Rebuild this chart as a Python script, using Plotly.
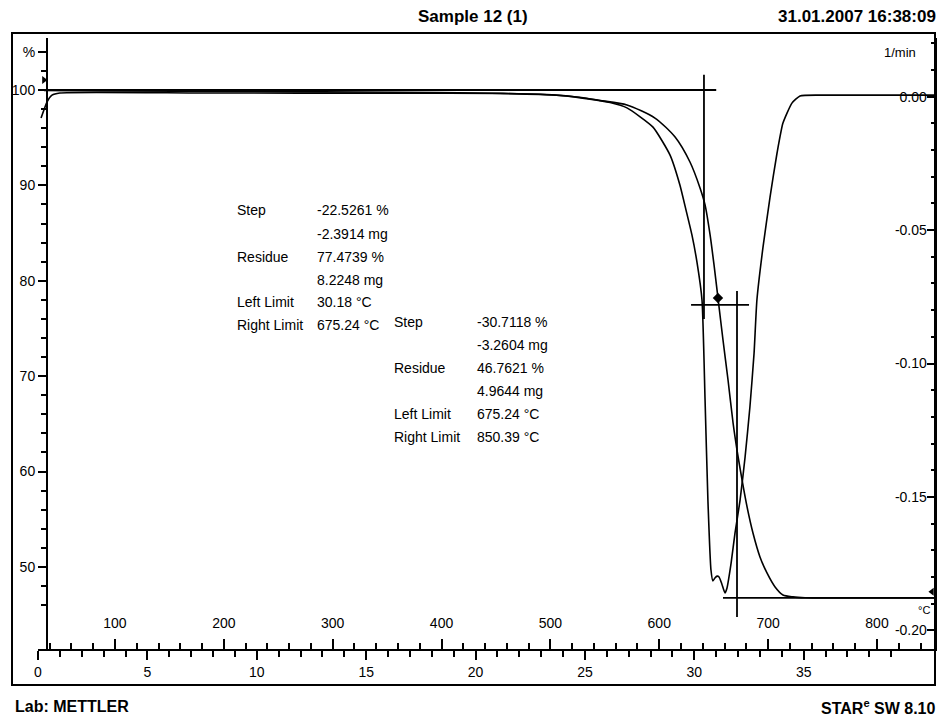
import plotly.graph_objects as go

# ---- measured curves -------------------------------------------------------
# weight curve: time (min) vs. sample weight (%)
tga_time = [0.27, 2.83, 9.69, 16.55, 20.20, 22.49, 23.86, 25.00, 25.69, 26.92,
            28.20, 29.12, 29.80, 30.26, 30.49, 30.72, 30.90, 31.08, 31.31, 31.54,
            31.77, 31.95, 32.18, 32.41, 32.68, 33.00, 33.32, 33.69, 34.05, 34.51,
            35.06, 41.0]
tga_pct = [99.95, 99.90, 99.84, 99.76, 99.69, 99.58, 99.42, 99.16, 98.90, 98.43,
           97.06, 95.07, 92.45, 89.73, 87.95, 84.80, 81.66, 78.20, 73.79, 69.60,
           65.09, 62.26, 59.12, 56.29, 53.56, 51.05, 49.37, 47.90, 47.06, 46.86,
           46.78, 46.76]

# first derivative: time (min) vs. rate (1/min)
dtg_time = [0.14, 0.41, 0.64, 1.00, 7.41, 16.55, 21.12, 23.86, 25.23, 26.15,
            26.92, 28.11, 28.89, 29.34, 29.62, 29.89, 30.12, 30.35, 30.49, 30.62,
            30.76, 30.85, 30.94, 31.04, 31.13, 31.26, 31.40, 31.49, 31.68, 31.86,
            32.09, 32.32, 32.54, 32.73, 32.86, 33.14, 33.46, 33.78, 34.05, 34.46,
            34.83, 35.74, 41.0]
dtg_rate = [-0.0080, -0.0020, 0.0006, 0.0014, 0.0014, 0.0013, 0.0012, 0.0005,
            -0.0009, -0.0022, -0.0042, -0.0114, -0.0219, -0.0331, -0.0425,
            -0.0518, -0.0620, -0.0762, -0.1137, -0.1512, -0.1774, -0.1815,
            -0.1804, -0.1797, -0.1800, -0.1827, -0.1860, -0.1842, -0.1748,
            -0.1635, -0.1512, -0.1350, -0.1163, -0.0961, -0.0762, -0.0563,
            -0.0376, -0.0211, -0.0099, -0.0024, 0.0003, 0.0006, 0.0006]

# ---- step evaluation -------------------------------------------------------
step_row_labels = ["Step", "", "Residue", "", "Left Limit", "Right Limit"]
step1_values = ["-22.5261 %", "-2.3914 mg", "77.4739 %", "8.2248 mg",
                "30.18 \u00b0C", "675.24 \u00b0C"]
step2_values = ["-30.7118 %", "-3.2604 mg", "46.7621 %", "4.9644 mg",
                "675.24 \u00b0C", "850.39 \u00b0C"]
level_start = 100.0
level_step1 = 77.4739
level_step2 = 46.7621

# horizontal level lines (time from, time to) at each level
level_lines_t = [(0.09, 31.00), (29.85, 32.50), (31.31, 41.0)]
level_lines_p = [level_start, level_step1, level_step2]
# vertical step lines (time, weight from, weight to)
step_marks_t = [30.44, 31.95]
step_marks_p = [(76.0, 101.6), (44.76, 78.93)]

# point markers
point_t = [31.08]
point_p = [78.20]
start_marker_t, start_marker_p = [0.27], [101.05]
end_marker_t, end_marker_p = [40.86], [47.4]

# ---- axes ------------------------------------------------------------------
time_range = [0, 41]
time_ticks = [0, 5, 10, 15, 20, 25, 30, 35, 40]
time_tick_text = ["0", "5", "10", "15", "20", "25", "30", "35", "min"]
temp_range = [29.3, 853.3]
temp_ticks = [100, 200, 300, 400, 500, 600, 700, 800]
pct_range = [41.40, 105.45]
pct_ticks = [50, 60, 70, 80, 90, 100, 104]
pct_tick_text = ["50", "60", "70", "80", "90", "100", "%"]
rate_range = [-0.2070, 0.0220]
rate_ticks = [0.0, -0.05, -0.10, -0.15, -0.20]
rate_tick_text = ["0.00", "-0.05", "-0.10", "-0.15", "-0.20"]

W, H = 943, 719
L, R, T, B = 38, 935, 38, 649


def px(x):
    return (x - L) / (R - L)


def py(y):
    return (B - y) / (B - T)


FONT = "Liberation Sans, Arial, sans-serif"
INK = "black"

fig = go.Figure()

fig.add_trace(go.Scatter(x=tga_time, y=tga_pct, mode="lines",
                         line=dict(color=INK, width=1.6, shape="spline",
                                   smoothing=0.7),
                         hoverinfo="skip"))
fig.add_trace(go.Scatter(x=dtg_time, y=dtg_rate, mode="lines", yaxis="y2",
                         line=dict(color=INK, width=1.6, shape="spline",
                                   smoothing=0.5),
                         hoverinfo="skip"))

for (t0, t1), p in zip(level_lines_t, level_lines_p):
    fig.add_trace(go.Scatter(x=[t0, t1], y=[p, p], mode="lines",
                             line=dict(color=INK, width=1.8), hoverinfo="skip"))
for t, (p0, p1) in zip(step_marks_t, step_marks_p):
    fig.add_trace(go.Scatter(x=[t, t], y=[p0, p1], mode="lines",
                             line=dict(color=INK, width=1.8), hoverinfo="skip"))

fig.add_trace(go.Scatter(x=point_t, y=point_p, mode="markers",
                         marker=dict(symbol="diamond", size=8, color=INK),
                         hoverinfo="skip"))
fig.add_trace(go.Scatter(x=start_marker_t, y=start_marker_p, mode="markers",
                         marker=dict(symbol="triangle-right", size=7, color=INK),
                         hoverinfo="skip", cliponaxis=False))
fig.add_trace(go.Scatter(x=end_marker_t, y=end_marker_p, mode="markers",
                         marker=dict(symbol="triangle-left", size=7, color=INK),
                         hoverinfo="skip", cliponaxis=False))

# invisible trace so the temperature scale is laid out
fig.add_trace(go.Scatter(x=temp_range, y=[None, None], xaxis="x2",
                         mode="lines", hoverinfo="skip"))

tick_font = dict(family=FONT, size=14, color=INK)

fig.update_layout(
    width=W, height=H,
    margin=dict(l=L, r=W - R, t=T, b=H - B),
    paper_bgcolor="white", plot_bgcolor="white",
    showlegend=False,
    font=dict(family=FONT, size=14, color=INK),
    xaxis=dict(range=time_range, tickvals=time_ticks, ticktext=time_tick_text,
               ticks="outside", ticklen=9, tickwidth=1.5, tickcolor=INK,
               minor=dict(dtick=1, tick0=0, ticks="outside", ticklen=6,
                          tickwidth=1.5, tickcolor=INK, showgrid=False),
               showline=True, linewidth=2, linecolor=INK,
               showgrid=False, zeroline=False, tickfont=tick_font,
               anchor="y"),
    xaxis2=dict(range=temp_range, overlaying="x", anchor="y", side="bottom",
                tickvals=temp_ticks, ticks="inside", ticklen=10, tickwidth=1.5,
                tickcolor=INK, ticklabelposition="inside", ticklabelstandoff=8,
                minor=dict(dtick=20, tick0=0, ticks="inside", ticklen=6,
                           tickwidth=1.5, tickcolor=INK, showgrid=False),
                showline=False, showgrid=False, zeroline=False,
                tickfont=tick_font),
    yaxis=dict(range=pct_range, tickvals=pct_ticks, ticktext=pct_tick_text,
               ticks="outside", ticklen=8, tickwidth=1.5, tickcolor=INK,
               minor=dict(dtick=2, tick0=0, ticks="outside", ticklen=5,
                          tickwidth=1.5, tickcolor=INK, showgrid=False),
               showline=True, linewidth=2, linecolor=INK,
               showgrid=False, zeroline=False, tickfont=tick_font,
               anchor="free", position=px(47)),
    yaxis2=dict(range=rate_range, overlaying="y", side="right", anchor="x",
                tickvals=rate_ticks, ticktext=rate_tick_text,
                ticks="inside", ticklen=8, tickwidth=1.5, tickcolor=INK,
                ticklabelposition="inside",
                minor=dict(dtick=0.01, tick0=0, ticks="inside", ticklen=4,
                           tickwidth=1.5, tickcolor=INK, showgrid=False),
                showline=True, linewidth=2, linecolor=INK,
                showgrid=False, zeroline=False, tickfont=tick_font),
)

# outer frame
fig.add_shape(type="rect", xref="paper", yref="paper",
              x0=px(12), x1=px(935), y0=py(685), y1=py(33),
              line=dict(color=INK, width=2), layer="above")

annotations = []


def label(x, y, text, xanchor="left", size=14, bold=False):
    if bold:
        text = "<b>" + text + "</b>"
    annotations.append(dict(x=px(x), y=py(y), xref="paper", yref="paper",
                            text=text, showarrow=False, xanchor=xanchor,
                            yanchor="middle",
                            font=dict(family=FONT, size=size, color=INK)))


# header and footer
label(473, 17, "Sample 12 (1)", xanchor="center", size=17, bold=True)
label(938, 17, "31.01.2007 16:38:09", xanchor="right", size=17, bold=True)
label(13, 706, "Lab: METTLER", size=16, bold=True)
label(938, 707, "STAR<sup>e</sup> SW 8.10", xanchor="right", size=16, bold=True)

# axis units
label(918, 53, "1/min", xanchor="right", size=13)
label(932, 610, "\u00b0C", xanchor="right", size=11)

# step result tables
rows1_y = [210, 234, 257, 280, 302, 325]
rows2_y = [322, 345, 368, 391, 414, 437]
for name, value, y in zip(step_row_labels, step1_values, rows1_y):
    if name:
        label(235, y, name)
    label(315, y, value)
for name, value, y in zip(step_row_labels, step2_values, rows2_y):
    if name:
        label(392, y, name)
    label(475, y, value)

fig.update_layout(annotations=annotations)

fig.write_html("out.html")
